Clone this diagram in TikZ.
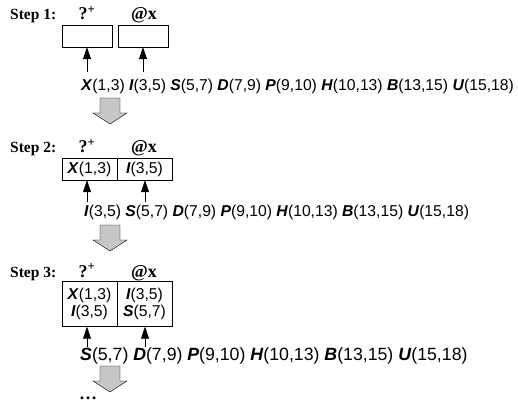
\documentclass[tikz,border=0pt]{standalone}
\usepackage{fontspec}
\setmainfont{Liberation Serif}
\newfontfamily\seqfont{Liberation Sans}
\usetikzlibrary{arrows.meta}
\newcommand{\sym}[1]{\textbf{\textit{#1}}}
\newcommand{\grayarrow}[2]{%
  \draw[fill=gray!45] ({#1-10},#2) -- ({#1+10},#2) -- ({#1+10},{#2+15}) -- ({#1+17},{#2+15})
    -- (#1,{#2+26}) -- ({#1-17},{#2+15}) -- ({#1-10},{#2+15}) -- cycle;}
\begin{document}
\begin{tikzpicture}[x=1pt,y=-1pt]

      \tikzset{cell/.style={draw, inner sep=0pt, align=center, font=\seqfont\fontsize{15.7}{17}\selectfont},
               steplabel/.style={inner sep=0pt, anchor=base west, font=\bfseries\fontsize{15.5}{16}\selectfont},
               head/.style={inner sep=0pt, anchor=base, font=\bfseries\fontsize{18}{18}\selectfont},
               seq/.style={inner sep=0pt, anchor=west, font=\seqfont\fontsize{15.7}{16}\selectfont},
               push/.style={-{Triangle[length=12pt,width=8pt]}, semithick}}
      \useasboundingbox (0,0) rectangle (518,403);
%% Step 1
      	\node[steplabel] (s1) at (10,20) {Step 1:};
      	\node[head] (q1) at (87,20) {?\textsuperscript{+}};
      	\node[head] (a1) at (144,20) {@x};
      	\node[cell, minimum width=50pt, minimum height=22pt] (b1a) at (87,36) {};
      	\node[cell, minimum width=50pt, minimum height=22pt] (b1b) at (143,36) {};
      	\node[seq] (r1) at (81,86) {\sym{X}(1,3) \sym{I}(3,5) \sym{S}(5,7) \sym{D}(7,9) \sym{P}(9,10) \sym{H}(10,13) \sym{B}(13,15) \sym{U}(15,18)};
      	\coordinate (t1a) at (87,72);
      	\coordinate (t1b) at (143,72);
%% Step 2
      	\node[steplabel] (s2) at (10,153) {Step 2:};
      	\node[head] (q2) at (87,153) {?\textsuperscript{+}};
      	\node[head] (a2) at (144,153) {@x};
      	\node[cell, minimum width=55pt, minimum height=22pt] (b2a) at (89.5,169) {\sym{X}(1,3)};
      	\node[cell, minimum width=55pt, minimum height=22pt] (b2b) at (144.5,169) {\sym{I}(3,5)};
      	\node[seq] (r2) at (84,212) {\sym{I}(3,5) \sym{S}(5,7) \sym{D}(7,9) \sym{P}(9,10) \sym{H}(10,13) \sym{B}(13,15) \sym{U}(15,18)};
      	\coordinate (t2a) at (87,202);
      	\coordinate (t2b) at (145,202);
%% Step 3
      	\node[steplabel] (s3) at (10,277) {Step 3:};
      	\node[head] (q3) at (87,277) {?\textsuperscript{+}};
      	\node[head] (a3) at (144,277) {@x};
      	\node[cell, minimum width=55pt, minimum height=45pt] (b3a) at (89.5,304) {\sym{X}(1,3)\\\sym{I}(3,5)};
      	\node[cell, minimum width=55pt, minimum height=45pt] (b3b) at (144.5,304) {\sym{I}(3,5)\\\sym{S}(5,7)};
      	\node[seq, font=\seqfont\fontsize{17.7}{18}\selectfont] (r3) at (80,356) {\sym{S}(5,7) \sym{D}(7,9) \sym{P}(9,10) \sym{H}(10,13) \sym{B}(13,15) \sym{U}(15,18)};
      	\coordinate (t3a) at (87,347);
      	\coordinate (t3b) at (145,347);
      	\node[head, anchor=center] (more) at (88,398) {\dots};
%Arrows
		\draw[push] (t1a) -- (b1a.south);
		\draw[push] (t1b) -- (b1b.south);
		\draw[push] (t2a) -- (t2a |- b2a.south);
		\draw[push] (t2b) -- (t2b |- b2b.south);
		\draw[push] (t3a) -- (t3a |- b3a.south);
		\draw[push] (t3b) -- (t3b |- b3b.south);
		\grayarrow{110}{98}
		\grayarrow{110}{225}
		\grayarrow{110}{366}

	\end{tikzpicture}
\end{document}
